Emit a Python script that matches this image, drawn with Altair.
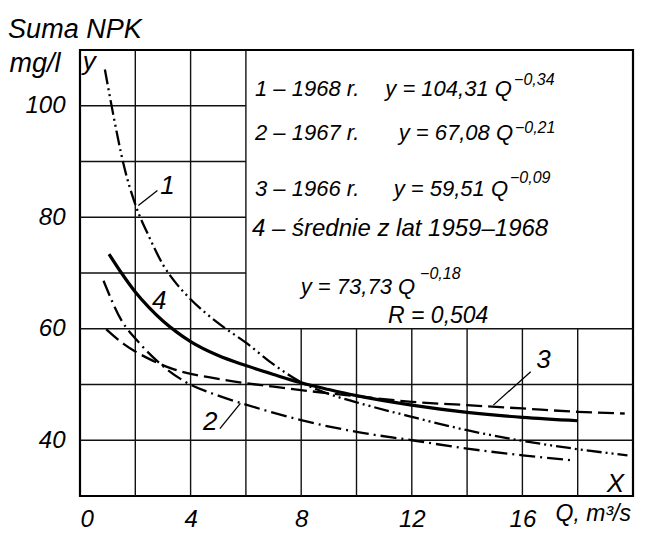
import altair as alt
import pandas as pd

# ---- series (Q in m3/s, suma NPK in mg/l) ----
q_1968 = [0.9, 1.2, 1.6, 2.0, 2.5, 3.0, 3.5, 4.0, 5.0, 6.0, 7.0, 8.0, 9.0, 10.0, 12.0, 14.0, 16.0, 18.0, 19.8]
y_1968 = [106.5, 98.5, 89.0, 82.3, 76.5, 71.5, 68.0, 65.3, 61.0, 57.5, 53.6, 50.4, 48.3, 46.8, 44.2, 41.8, 39.9, 38.4, 37.3]

q_1967 = [0.85, 1.5, 2.1, 3.0, 3.8, 5.0, 6.0, 8.0, 10.0, 12.0, 14.0, 16.0, 17.8]
y_1967 = [68.6, 61.5, 57.7, 53.3, 50.5, 48.0, 46.4, 43.6, 41.5, 40.0, 38.5, 37.3, 36.4]

q_1966 = [0.95, 1.6, 2.5, 3.3, 5.0, 7.0, 8.5, 10.0, 12.0, 14.0, 16.0, 18.0, 19.7]
y_1966 = [59.9, 57.2, 54.6, 52.9, 51.0, 49.6, 48.7, 47.9, 46.9, 46.3, 45.7, 45.1, 44.8]

q_avg = [1.05, 1.5, 2.0, 2.5, 3.0, 3.5, 4.0, 5.0, 6.0, 7.0, 8.0, 9.0, 10.0, 12.0, 14.0, 16.0, 18.0]
y_avg = [73.4, 70.0, 66.6, 63.8, 61.4, 59.4, 57.7, 55.2, 53.4, 51.8, 50.3, 49.1, 48.0, 46.3, 45.0, 44.1, 43.5]

x_ticks = [0, 4, 8, 12, 16]
y_ticks = [40, 60, 80, 100]

FONT = "Liberation Sans"

xs = alt.Scale(domain=[0, 20], nice=False, zero=False)
ys = alt.Scale(domain=[30, 110], nice=False, zero=False)

# ---- grid (the reference leaves the legend box free of grid lines) ----
grid = pd.DataFrame(
    [dict(x=v, x2=v, y=30, y2=110) for v in [2, 4, 6]]
    + [dict(x=v, x2=v, y=30, y2=60) for v in [8, 10, 12, 14, 16, 18]]
    + [dict(x=0, x2=6, y=v, y2=v) for v in [70, 80, 90, 100]]
    + [dict(x=0, x2=20, y=v, y2=v) for v in [40, 50, 60]]
)
grid_layer = alt.Chart(grid).mark_rule(color="#111", strokeWidth=1.4).encode(
    x=alt.X("x:Q", scale=xs, axis=alt.Axis(values=x_ticks, title=None, grid=False, ticks=False,
                                            domain=False, labelFont=FONT, labelFontStyle="italic",
                                            labelFontSize=24, labelPadding=11, labelColor="black")),
    x2="x2:Q",
    y=alt.Y("y:Q", scale=ys, axis=alt.Axis(values=y_ticks, title=None, grid=False, ticks=False,
                                            domain=False, labelFont=FONT, labelFontStyle="italic",
                                            labelFontSize=24, labelPadding=15, labelColor="black")),
    y2="y2:Q",
)


def curve(q, y, dash, width):
    df = pd.DataFrame({"Q": q, "y": y})
    kw = dict(color="black", strokeWidth=width, interpolate="monotone")
    if dash:
        kw["strokeDash"] = dash
    return alt.Chart(df).mark_line(**kw).encode(
        x=alt.X("Q:Q", scale=xs), y=alt.Y("y:Q", scale=ys))


c1 = curve(q_1968, y_1968, [15, 4, 2, 4, 2, 4], 2.3)
c2 = curve(q_1967, y_1967, [16, 5, 2, 5], 2.3)
c3 = curve(q_1966, y_1966, [16, 6], 2.3)
c4 = curve(q_avg, y_avg, None, 3.2)

# leader lines for curve numbers
leaders = pd.DataFrame([
    dict(x=2.11, y=82.1, x2=2.8, y2=84.8),
    dict(x=5.06, y=42.1, x2=5.8, y2=46.6),
    dict(x=14.95, y=46.3, x2=16.3, y2=52.3),
])
leader_layer = alt.Chart(leaders).mark_rule(color="black", strokeWidth=1.3).encode(
    x=alt.X("x:Q", scale=xs), x2="x2:Q", y=alt.Y("y:Q", scale=ys), y2="y2:Q")


def texts(rows, size, align="left"):
    df = pd.DataFrame(rows, columns=["x", "y", "t"])
    return alt.Chart(df).mark_text(font=FONT, fontStyle="italic", fontSize=size, align=align,
                                   baseline="alphabetic", color="black").encode(
        x=alt.X("x:Q", scale=xs), y=alt.Y("y:Q", scale=ys), text="t:N")


label_text = texts([
    (6.33, 101.7, "1 – 1968 r."),
    (6.33, 93.8, "2 – 1967 r."),
    (6.33, 83.9, "3 – 1966 r."),
], 22)

line4_text = texts([
    (6.22, 76.7, "4 – średnie z lat  1959–1968"),
], 24)

r_text = texts([
    (11.14, 61.0, "R =  0,504"),
], 23)

eq_text = texts([
    (15.62, 101.7, "y = 104,31 Q"),
    (15.66, 93.8, "y = 67,08 Q"),
    (15.48, 83.9, "y = 59,51 Q"),
    (12.12, 66.2, "y = 73,73 Q"),
], 22, align="right")

sup_text = texts([
    (15.7, 103.7, "−0,34"),
    (15.73, 95.2, "−0,21"),
    (15.55, 86.2, "−0,09"),
    (12.3, 68.9, "−0,18"),
], 16)

num_text = texts([
    (2.9, 84.2, "1"),
    (2.6, 63.5, "4"),
    (4.45, 41.9, "2"),
    (16.5, 52.9, "3"),
    (0.1, 106.4, "y"),
    (19.05, 30.7, "X"),
], 26)

outer_text = texts([
    (-2.6, 112.2, "Suma NPK"),
    (-2.55, 106.0, "mg/l"),
], 27)

q_title = texts([
    (17.2, 25.5, "Q, m³/s"),
], 23)

chart = alt.layer(
    grid_layer, c1, c2, c3, c4, leader_layer, label_text, line4_text, r_text, eq_text,
    sup_text, num_text, outer_text, q_title
).properties(
    width=553, height=446,
    autosize=alt.AutoSizeParams(type="none"),
    padding={"left": 72, "top": 42, "right": 6, "bottom": 34},
).configure_view(
    stroke="black", strokeWidth=2.2
)

chart.save("out.html", embed_options={"renderer": "svg", "actions": False})
